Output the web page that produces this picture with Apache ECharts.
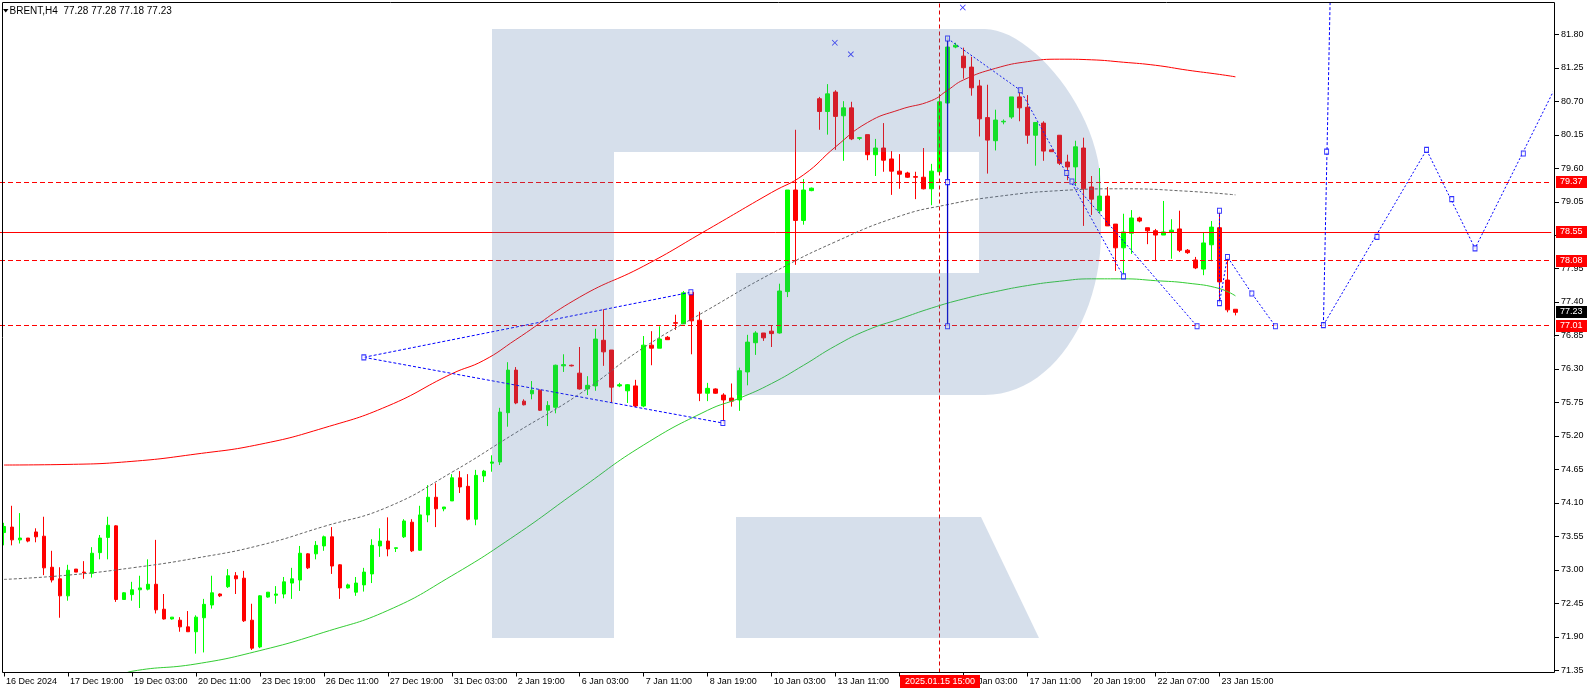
<!DOCTYPE html>
<html><head><meta charset="utf-8">
<script src="https://cdn.jsdelivr.net/npm/echarts@6/dist/echarts.min.js"></script>
<style>html,body{margin:0;padding:0;background:#fff}#c{width:1594px;height:694px}</style>
</head><body><div id="c"></div>
<script>
// ---------- DATA ----------
const opens  = [73.61,73.70,73.49,73.52,73.62,73.55,73.04,72.85,72.57,73.01,72.96,72.94,73.28,73.53,73.72,72.51,72.59,72.67,72.68,72.76,72.35,72.19,72.17,72.06,71.98,72.21,72.42,72.60,72.72,72.90,
72.86,72.17,71.73,72.55,72.58,72.60,72.78,72.83,73.26,73.26,73.39,73.54,73.08,72.70,72.63,72.75,72.93,73.39,73.47,73.35,73.54,73.78,73.32,73.90,74.19,74.00,74.13,74.51,74.37,73.83,
74.54,74.75,74.77,75.58,76.28,75.77,75.89,75.95,75.62,75.67,76.35,76.36,76.23,75.97,76.02,76.77,76.61,76.02,75.94,76.02,75.69,76.69,76.64,76.82,77.06,77.04,77.56,77.10,75.90,75.97,
75.87,75.82,75.79,76.25,76.73,76.89,76.92,76.89,77.57,79.24,78.74,79.23,80.74,80.53,80.85,80.46,80.59,80.09,80.15,79.82,79.93,79.75,79.55,79.52,79.46,79.45,79.26,79.54,80.67,81.59,
81.44,81.26,80.95,80.43,80.05,80.36,80.44,80.77,80.60,80.14,80.34,79.90,80.14,79.70,79.62,79.93,79.29,78.90,79.14,78.68,78.29,78.53,78.78,78.62,78.57,78.50,78.55,78.60,78.25,78.09,
77.94,78.34,78.62,77.76,77.28];
const highs  = [73.77,74.05,73.93,73.52,73.68,73.87,73.31,73.04,73.08,73.01,73.14,73.37,73.57,73.87,73.73,72.63,72.80,72.90,73.17,73.49,72.60,72.22,72.22,72.32,72.25,72.52,72.90,72.61,73.01,72.96,
72.98,72.44,72.58,72.63,72.73,72.88,73.03,73.39,73.27,73.47,73.56,73.70,73.09,72.77,72.88,73.03,73.50,73.68,73.86,73.36,73.83,73.83,74.05,74.39,74.42,74.03,74.57,74.62,74.57,74.64,
74.64,74.88,75.66,76.41,76.33,75.80,76.10,75.96,75.77,76.37,76.54,76.37,76.66,76.18,76.96,77.28,76.61,76.07,76.05,76.12,76.84,76.92,77.00,76.84,77.19,77.58,77.56,77.24,76.07,75.98,
75.90,76.06,76.32,76.86,76.92,76.89,77.02,77.70,79.24,80.23,79.42,79.28,80.77,80.98,80.88,80.70,80.69,80.11,80.15,80.08,80.34,79.88,79.83,79.54,79.54,79.93,79.67,80.82,81.76,81.66,
81.58,81.43,81.05,80.97,80.56,80.40,80.77,80.90,80.80,80.35,80.37,79.90,80.14,79.82,80.05,80.10,79.47,79.60,79.29,78.68,78.85,78.91,78.80,78.62,78.60,79.06,78.76,78.90,78.27,78.14,
78.55,78.73,78.90,78.13,77.28];
const lows   = [73.40,73.40,73.43,73.45,73.45,72.91,72.79,72.21,72.49,72.96,72.85,72.87,73.17,73.17,72.47,72.51,72.49,72.37,72.66,72.28,72.18,72.18,71.98,71.98,71.62,71.64,72.36,72.55,72.70,72.60,
72.14,71.68,71.71,72.54,72.44,72.53,72.52,72.65,73.01,73.17,73.31,72.93,72.52,72.69,72.57,72.64,72.78,73.21,73.22,73.29,73.52,73.29,73.31,73.78,73.70,73.96,74.13,74.26,73.81,73.73,
74.44,74.61,74.72,75.35,75.72,75.70,75.80,75.61,75.36,75.57,76.25,76.34,75.96,75.87,75.94,76.35,75.74,76.00,75.74,75.67,75.67,76.36,76.64,76.78,76.94,77.04,76.54,75.77,75.77,75.89,
75.40,75.68,75.61,76.03,76.53,76.76,76.66,76.88,77.48,78.01,78.67,79.22,80.23,80.15,79.90,79.72,80.06,80.06,79.73,79.47,79.54,79.16,79.26,79.44,79.09,79.25,78.99,79.53,80.60,81.57,
81.07,80.79,80.12,79.51,79.89,80.32,80.41,80.37,80.00,79.64,79.72,79.87,79.65,79.40,79.32,78.65,78.83,78.85,78.65,77.91,77.86,78.19,78.71,78.35,78.07,78.50,78.11,78.22,78.19,77.94,
77.84,78.07,77.40,77.23,77.18];
const closes = [73.71,73.49,73.52,73.47,73.54,73.03,72.83,72.57,72.99,72.96,72.95,73.27,73.52,73.73,72.51,72.62,72.67,72.70,72.76,72.34,72.19,72.22,72.06,71.98,72.22,72.43,72.62,72.57,72.90,72.85,
72.16,71.71,72.57,72.63,72.60,72.80,72.85,73.27,73.03,73.40,73.54,73.06,72.70,72.75,72.78,72.96,73.40,73.47,73.34,73.36,73.80,73.31,73.90,74.19,74.00,74.03,74.51,74.36,73.83,74.55,
74.62,74.77,75.59,76.28,75.74,75.71,75.95,75.62,75.70,76.36,76.37,76.35,75.97,76.03,76.79,76.58,76.00,76.04,76.04,75.69,76.69,76.64,76.79,76.78,77.05,77.55,77.09,75.90,75.98,75.90,
75.79,75.77,76.27,76.74,76.89,76.81,76.88,77.58,79.24,78.74,79.24,79.27,80.53,80.82,80.45,80.59,80.08,80.10,79.82,79.93,79.73,79.55,79.50,79.45,79.45,79.26,79.55,80.69,81.59,81.62,
81.25,80.92,80.41,80.06,80.39,80.37,80.77,80.59,80.14,80.35,79.88,79.87,79.68,79.62,79.95,79.26,79.09,79.14,78.65,78.29,78.55,78.78,78.73,78.57,78.50,78.55,78.58,78.25,78.21,77.96,
78.37,78.63,77.73,77.27,77.23];

const timeLabels = ['16 Dec 2024','17 Dec 19:00','19 Dec 03:00','20 Dec 11:00','23 Dec 19:00','26 Dec 11:00','27 Dec 19:00','31 Dec 03:00','2 Jan 19:00','6 Jan 03:00','7 Jan 11:00','8 Jan 19:00','10 Jan 03:00','13 Jan 11:00','14 Jan 19:00','16 Jan 03:00','17 Jan 11:00','20 Jan 19:00','22 Jan 07:00','23 Jan 15:00'];
const priceTicks = [81.80,81.25,80.70,80.15,79.60,79.05,78.50,77.95,77.40,76.85,76.30,75.75,75.20,74.65,74.10,73.55,73.00,72.45,71.90,71.35];

// moving averages read at sample bars: [bar, price]
const redMA   = [[0,74.72],[8,74.73],[16,74.78],[24,74.90],[32,75.06],[40,75.33],[48,75.69],[56,76.22],[60,76.44],[64,76.78],[72,77.48],[80,77.99],[88,78.59],[96,79.20],[100,79.49],[104,79.95],[108,80.35],[112,80.56],[116,80.71],[118,80.88],[120,81.05],[124,81.24],[128,81.35],[132,81.39],[136,81.38],[140,81.34],[144,81.29],[148,81.21],[152,81.14],[154,81.10]];
const greenMA = [[14,71.22],[16,71.33],[24,71.45],[32,71.67],[40,71.97],[48,72.33],[56,72.90],[64,73.57],[72,74.32],[80,75.05],[88,75.62],[92,75.82],[96,76.06],[100,76.36],[104,76.68],[108,76.94],[112,77.12],[116,77.30],[120,77.45],[124,77.57],[128,77.67],[132,77.74],[136,77.78],[140,77.78],[144,77.75],[148,77.71],[152,77.62],[154,77.50]];
const grayMA  = [[0,72.84],[8,72.91],[16,73.03],[24,73.19],[32,73.40],[40,73.71],[48,74.03],[56,74.60],[64,75.25],[72,75.89],[80,76.65],[88,77.27],[96,77.87],[104,78.39],[112,78.81],[118,79.00],[124,79.13],[132,79.23],[140,79.26],[148,79.22],[154,79.16]];

// drawn objects: [bar, price]
const triUpper = [[45,76.49],[85.9,77.56]];
const triLower = [[45,76.49],[89.9,75.41]];
const impulseLine = [[118,81.73],[118,77.00]];
const fcLine1 = [[118,81.73],[127.1,80.88],[140.0,77.82]];
const fcLine2 = [[133.55,79.38],[149.2,77.00]];
const fcLine3 = [[152,78.90],[152,77.38],[153,78.14],[156.05,77.54],[159,77.00]];
const fcLine4 = [[165,77.02],[165.88,82.6]];
const fcLine5 = [[165,77.02],[177.9,79.90],[183.96,78.28],[193.75,80.86]];
const anchors = [[118,81.73],[118,79.37],[118,77.00],[127.1,80.88],[132.9,79.52],[133.55,79.38],[140.0,77.82],[149.2,77.00],[152,78.90],[152,77.38],[153,78.14],[156.05,77.54],[159,77.00],[165,77.02],[165.4,79.87],[171.7,78.47],[177.9,79.90],[181.05,79.09],[183.96,78.28],[190,79.84],[45,76.49],[85.9,77.56],[89.9,75.41]];
const crossMarks = [[103.9,81.66],[105.9,81.47],[119.9,82.24]];

const levelPrices = [79.37,78.55,78.08,77.01];
const levelSolid  = [false,true,false,false];
const vLineBar = 117;
const vLineLabel = '2025.01.15 15:00';
const tagPrices = [79.37,78.55,78.08,77.23,77.01];
const tagColors = ['#ff0000','#ff0000','#ff0000','#000000','#ff0000'];
const titleText = 'BRENT,H4  77.28 77.28 77.18 77.23';

// ---------- CHART ----------
const NCAT = 194;
const cats = Array.from({length:NCAT},(_,i)=>String(i));
const candles = opens.map((o,i)=>[o,closes[i],lows[i],highs[i]]);
const FONT = 'Liberation Sans, Arial, sans-serif';
const BLUE = '#0000ff';
const WM = 'rgba(84,122,172,0.24)';

const chart = echarts.init(document.getElementById('c'), null, {renderer:'canvas'});
function lineSeries(name, data, color, type, width, smooth){
  return {type:'line', name, xAxisIndex:1, yAxisIndex:0, data, showSymbol:false, symbol:'none',
    smooth: smooth||false,
    lineStyle:{color, width:width||1, type:type||'solid'}, z:5, silent:true, clip:true, animation:false};
}
const mlData = levelPrices.map((p,i)=>({yAxis:p, lineStyle:{color:'#ff0000', width:1, type: levelSolid[i]?'solid':[5,3]}}));
mlData.push({xAxis:vLineBar, lineStyle:{color:'#dd0000', width:1, type:[4,3]}});

const option = {
  animation:false,
  backgroundColor:'#ffffff',
  grid:{left:-0.7, right:42.7, top:2, bottom:21.5, containLabel:false},
  xAxis:[
    {type:'category', data:cats, boundaryGap:true,
     axisLine:{show:false},
     axisTick:{show:true, alignWithLabel:true, length:4, lineStyle:{color:'#000'}, interval:(i)=> i%8===0 && i<=152},
     axisLabel:{show:true, interval:(i)=> i%8===0 && i<=152, formatter:(v,i)=> timeLabels[i/8]||'',
       align:'left', margin:5, padding:[0,0,0,2], color:'#000', fontSize:9, fontFamily:FONT},
     splitLine:{show:false}},
    {type:'value', min:-0.5, max:NCAT-0.5, show:false, splitLine:{show:false}}
  ],
  yAxis:[{type:'value', position:'right', min:71.31, max:82.33, offset:3.7,
    axisLine:{show:false},
    axisTick:{show:false},
    axisLabel:{show:true, customValues:priceTicks, formatter:(v)=>Number(v).toFixed(2), margin:6, color:'#000', fontSize:9, fontFamily:FONT, align:'left'},
    splitLine:{show:false}}],
  series:[
    {type:'candlestick', xAxisIndex:0, yAxisIndex:0, data:candles, barWidth:4, z:2, silent:true,
     itemStyle:{color:'#00ff00', color0:'#ff0000', borderColor:'#00ff00', borderColor0:'#ff0000', borderWidth:1}},
    Object.assign(lineSeries('red', redMA, '#ff0000', 'solid', 1, 0.5), {markLine:{silent:true, symbol:['none','none'], label:{show:false}, animation:false, data:mlData}, z:4}),
    lineSeries('green', greenMA, '#33cc33', 'solid', 1, 0.5),
    lineSeries('gray', grayMA, '#666666', [3,2], 1, 0.5),
    lineSeries('triU', triUpper, BLUE, [3,2]),
    lineSeries('triL', triLower, BLUE, [3,2]),
    lineSeries('imp', impulseLine, '#0000cc', 'solid', 1.3),
    lineSeries('fc1', fcLine1, BLUE, [2,2]),
    lineSeries('fc2', fcLine2, BLUE, [2,2]),
    lineSeries('fc3', fcLine3, BLUE, [2,2]),
    lineSeries('fc4', fcLine4, BLUE, [3,2]),
    lineSeries('fc5', fcLine5, BLUE, [2,2]),
    {type:'scatter', xAxisIndex:1, yAxisIndex:0, data:anchors, symbol:'rect', symbolSize:[4,5], z:6, silent:true,
     itemStyle:{color:'#ffffff', borderColor:BLUE, borderWidth:1}},
    {type:'scatter', xAxisIndex:1, yAxisIndex:0, data:crossMarks, z:6, silent:true,
     symbol:'path://M0,1L1,0L5,4L9,0L10,1L6,5L10,9L9,10L5,6L1,10L0,9L4,5Z', symbolSize:6, itemStyle:{color:BLUE}}
  ]
};
chart.setOption(option);

// ---------- overlays ----------
function bez(p0,p1,p2,p3,n){
  const pts=[];
  for(let k=1;k<=n;k++){const t=k/n,u=1-t;
    pts.push([u*u*u*p0[0]+3*u*u*t*p1[0]+3*u*t*t*p2[0]+t*t*t*p3[0], u*u*u*p0[1]+3*u*u*t*p1[1]+3*u*t*t*p2[1]+t*t*t*p3[1]]);}
  return pts;
}
const bowl = [[614,29],[985,29]]
  .concat(bez([985,29],[1030,29],[1101,110],[1101,190],24))
  .concat([[1101,232]])
  .concat(bez([1101,232],[1101,320],[1050,395],[985,395],24))
  .concat([[736,395],[736,273],[979,273],[979,152],[614,152]]);

const g = [];
g.push({type:'group', silent:true, z:50, children:[
  {type:'rect', shape:{x:492,y:29,width:122,height:609}, style:{fill:WM}, z:50},
  {type:'polygon', shape:{points:bowl}, style:{fill:WM}, z:50},
  {type:'polygon', shape:{points:[[736,517],[981,517],[1039,638],[736,638]]}, style:{fill:WM}, z:50}
]});
// frame
g.push({type:'rect', silent:true, z:60, shape:{x:2.5,y:2.5,width:1552,height:670}, style:{fill:null, stroke:'#000', lineWidth:1}});
// y ticks
priceTicks.forEach(p=>{
  const y = Math.round(chart.convertToPixel({yAxisIndex:0}, p)) + 0.5;
  g.push({type:'line', silent:true, z:60, shape:{x1:1555, y1:y, x2:1559, y2:y}, style:{stroke:'#000', lineWidth:1}});
});
// title
g.push({type:'polygon', silent:true, z:60, shape:{points:[[3,9],[8.5,9],[5.75,12.5]]}, style:{fill:'#000'}});
g.push({type:'text', silent:true, z:60, x:9.5, y:11, style:{text:titleText, font:'10px '+FONT, fill:'#000', verticalAlign:'middle', textAlign:'left'}});
// price tags
tagPrices.forEach((p,i)=>{
  const y = chart.convertToPixel({yAxisIndex:0}, p);
  g.push({type:'rect', silent:true, z:70, shape:{x:1556, y:Math.round(y)-6, width:31, height:12}, style:{fill:tagColors[i]}});
  g.push({type:'text', silent:true, z:71, x:1560, y:Math.round(y), style:{text:p.toFixed(2), font:'9px '+FONT, fill:'#fff', verticalAlign:'middle', textAlign:'left'}});
});
// highlighted time label
const vx = chart.convertToPixel({xAxisIndex:1}, vLineBar);
g.push({type:'rect', silent:true, z:70, shape:{x:Math.round(vx)-40, y:675, width:80, height:13}, style:{fill:'#ff0000'}});
g.push({type:'text', silent:true, z:71, x:Math.round(vx), y:681.5, style:{text:vLineLabel, font:'9px '+FONT, fill:'#fff', verticalAlign:'middle', textAlign:'center'}});
chart.setOption({graphic:g});
</script>
</body></html>
